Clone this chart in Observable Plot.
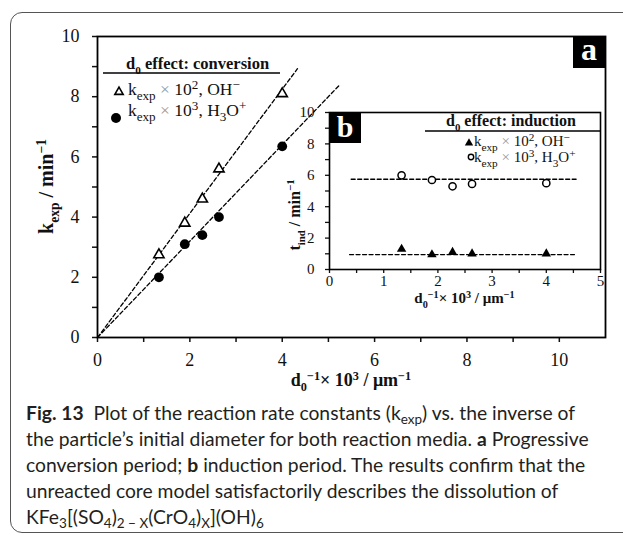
<!DOCTYPE html>
<html><head><meta charset="utf-8">
<script src="https://cdn.jsdelivr.net/npm/d3@7"></script>
<script src="https://cdn.jsdelivr.net/npm/@observablehq/plot@0.6"></script>
<style>
html,body{margin:0;padding:0;background:#fff;width:623px;height:538px;overflow:hidden;}
#wrap{position:relative;width:623px;height:538px;}
#card{position:absolute;left:10px;top:12px;width:680px;height:521px;border:1.5px solid #555;border-radius:12px;box-sizing:border-box;}
#main{position:absolute;left:0;top:0;}
#inset{position:absolute;left:280px;top:100px;}
#caption{position:absolute;left:26px;top:400px;font-family:Lato,'Noto Sans',sans-serif;font-size:19.5px;line-height:26px;color:#231f20;white-space:nowrap;}
#caption div{height:26px;}
#caption sub{font-size:0.7em;vertical-align:-0.3em;line-height:0;}
</style></head>
<body><div id="wrap"><div id="card"></div><div id="main"></div><div id="inset"></div>
<div id="caption">
<div id="l1"><b>Fig. 13</b>&nbsp; Plot of the reaction rate constants (k<sub>exp</sub>) vs. the inverse of</div>
<div id="l2">the particle’s initial diameter for both reaction media. <b>a</b> Progressive</div>
<div id="l3">conversion period; <b>b</b> induction period. The results confirm that the</div>
<div id="l4">unreacted core model satisfactorily describes the dissolution of</div>
<div id="l5">KFe<sub>3</sub>[(SO<sub>4</sub>)<sub>2 − X</sub>(CrO<sub>4</sub>)<sub>X</sub>](OH)<sub>6</sub></div>
</div></div>
<script>
// ---- data ----
const d0inv = [1.33, 1.89, 2.27, 2.63, 4.0];
const kOH   = [2.75, 3.8, 4.6, 5.6, 8.1];      // k_exp x 10^2, OH-
const kH3O  = [2.0, 3.1, 3.4, 4.0, 6.35];      // k_exp x 10^3, H3O+
const tOH   = [1.3, 0.95, 1.1, 1.0, 1.0];      // induction, OH-
const tH3O  = [6.0, 5.7, 5.3, 5.45, 5.5];      // induction, H3O+
const fitOHx = [0, 4.33],  fitOHy = [0, 8.93];
const fitH3Ox = [0, 5.23], fitH3Oy = [0, 8.37];
const meanOHx = [0.37, 4.52], meanOHy = [0.95, 0.95];
const meanH3Ox = [0.4, 4.55], meanH3Oy = [5.75, 5.75];
const mainXTicks = [0,1,2,3,4,5,6,7,8,9,10];
const mainYTicks = [0,1,2,3,4,5,6,7,8,9,10];
const insetXTicks = [0,0.5,1,1.5,2,2.5,3,3.5,4,4.5,5];
const insetYTicks = [0,1,2,3,4,5,6,7,8,9,10];

const pts = (xs, ys) => xs.map((x, i) => ({x, y: ys[i]}));
const serif = "'Liberation Serif', 'Times New Roman', serif";

// rich text helper (sub/superscripts as tspans)
function rich(parent, parts, attrs, fs, subScale = 0.68) {
  const t = parent.append("text").attr("text-anchor", "start").style("white-space", "pre");
  for (const [k, v] of Object.entries(attrs)) t.attr(k, v);
  t.attr("font-size", fs);
  let shift = 0;
  for (const p of parts) {
    const s = typeof p === "string" ? {t: p} : p;
    const target = s.sub ? 0.3 * fs : s.sup ? -0.36 * fs : 0;
    const ts = t.append("tspan").text(s.t).attr("dy", target - shift);
    shift = target;
    if (s.sub || s.sup) ts.attr("font-size", fs * subScale);
    if (s.fill) ts.attr("fill", s.fill);
    if (s.weight) ts.attr("font-weight", s.weight);
  }
  return t;
}
const entryOH = ["k", {t: "exp", sub: true}, {t: " × ", fill: "#999"}, "10", {t: "2", sup: true}, ", OH", {t: "−", sup: true}];
const entryH3O = ["k", {t: "exp", sub: true}, {t: " × ", fill: "#999"}, "10", {t: "3", sup: true}, ", H", {t: "3", sub: true}, "O", {t: "+", sup: true}];
const xLabel = ["d", {t: "0", sub: true}, {t: "−1", sup: true}, "× 10", {t: "3", sup: true}, " / μm", {t: "−1", sup: true}];

// ---- main chart ----
const main = Plot.plot({
  width: 623, height: 400,
  marginLeft: 97, marginRight: 18, marginTop: 36, marginBottom: 63,
  x: {domain: [0, 11]}, y: {domain: [0, 10]},
  style: {fontFamily: serif, fontSize: "18px", background: "transparent", color: "#000", overflow: "visible"},
  marks: [
    Plot.axisX({ticks: mainXTicks, tickFormat: d => d % 2 ? "" : d, tickSize: 5, tickPadding: 11, strokeWidth: 1.5, label: null, color: "#111"}),
    Plot.axisY({ticks: mainYTicks, tickFormat: d => d % 2 ? "" : d, tickSize: 5, tickPadding: 13, strokeWidth: 1.5, label: null, color: "#111"}),
    Plot.line(pts(fitOHx, fitOHy), {x: "x", y: "y", stroke: "#000", strokeWidth: 1.3, strokeDasharray: "4,2.5"}),
    Plot.line(pts(fitH3Ox, fitH3Oy), {x: "x", y: "y", stroke: "#000", strokeWidth: 1.3, strokeDasharray: "4,2.5"}),
    Plot.dot(pts(d0inv, kOH), {x: "x", y: "y", symbol: "triangle", r: 3.8, stroke: "#000", fill: "#fff", strokeWidth: 1.6}),
    Plot.dot(pts(d0inv, kH3O), {x: "x", y: "y", r: 4.9, fill: "#000", stroke: "none"}),
    Plot.frame({stroke: "#000", strokeWidth: 1.8}),
    (index, scales, values, dim) => {
      const g = d3.create("svg:g");
      // legend
      rich(g, ["d", {t: "0", sub: true}, " effect: conversion"], {x: 126, y: 69, "font-weight": "bold", fill: "#111"}, 16.5);
      g.append("line").attr("x1", 103).attr("x2", 280).attr("y1", 73).attr("y2", 73).attr("stroke", "#000").attr("stroke-width", 1.5);
      g.append("path").attr("d", d3.symbol(d3.symbolTriangle, 30)()).attr("transform", "translate(119,92)")
        .attr("fill", "#fff").attr("stroke", "#000").attr("stroke-width", 1.6);
      rich(g, entryOH, {x: 128, y: 95, fill: "#111"}, 17.5, 0.75);
      g.append("circle").attr("cx", 116).attr("cy", 118).attr("r", 5).attr("fill", "#000");
      rich(g, entryH3O, {x: 128, y: 116, fill: "#111"}, 17.5, 0.75);
      // "a" box
      const x1 = dim.width - dim.marginRight;
      g.append("rect").attr("x", x1 - 32).attr("y", dim.marginTop).attr("width", 32).attr("height", 32).attr("fill", "#000");
      g.append("text").attr("x", x1 - 16).attr("y", dim.marginTop + 24).attr("text-anchor", "middle")
        .attr("font-size", 32).attr("font-weight", "bold").attr("fill", "#fff").text("a");
      // axis labels
      rich(g, xLabel, {x: (dim.marginLeft + x1) / 2, y: 386, "text-anchor": "middle", "font-weight": "bold", fill: "#111"}, 18);
      rich(g, ["k", {t: "exp", sub: true}, " / min", {t: "−1", sup: true}],
        {transform: `translate(53,${(dim.marginTop + dim.height - dim.marginBottom) / 2}) rotate(-90)`, "text-anchor": "middle", "font-weight": "bold", fill: "#111"}, 20);
      return g.node();
    }
  ]
});
document.getElementById("main").append(main);

// ---- inset chart ----
const inset = Plot.plot({
  width: 330, height: 215,
  marginLeft: 49, marginRight: 10, marginTop: 12, marginBottom: 46,
  x: {domain: [0, 5]}, y: {domain: [0, 10]},
  style: {fontFamily: serif, fontSize: "15px", background: "transparent", color: "#000", overflow: "visible"},
  marks: [
    Plot.frame({fill: "#fff", stroke: "none"}),
    Plot.axisX({ticks: insetXTicks, tickFormat: d => Number.isInteger(d) ? d : "", tickSize: 4, tickPadding: 2, strokeWidth: 1.3, label: null, color: "#111"}),
    Plot.axisY({ticks: insetYTicks, tickFormat: d => d % 2 ? "" : d, tickSize: 4, tickPadding: 11, strokeWidth: 1.3, label: null, color: "#111"}),
    Plot.line(pts(meanH3Ox, meanH3Oy), {x: "x", y: "y", stroke: "#000", strokeWidth: 1.3, strokeDasharray: "4,2.5"}),
    Plot.line(pts(meanOHx, meanOHy), {x: "x", y: "y", stroke: "#000", strokeWidth: 1.3, strokeDasharray: "4,2.5"}),
    Plot.dot(pts(d0inv, tH3O), {x: "x", y: "y", r: 3.6, stroke: "#000", fill: "#fff", strokeWidth: 1.5}),
    Plot.dot(pts(d0inv, tOH), {x: "x", y: "y", symbol: "triangle", r: 3.5, fill: "#000", stroke: "none"}),
    Plot.frame({stroke: "#000", strokeWidth: 1.6}),
    (index, scales, values, dim) => {
      const g = d3.create("svg:g");
      const x1 = dim.width - dim.marginRight;
      rich(g, ["d", {t: "0", sub: true}, " effect: induction"], {x: 166, y: 26, "font-weight": "bold", fill: "#111"}, 16);
      g.append("line").attr("x1", 145).attr("x2", x1).attr("y1", 31).attr("y2", 31).attr("stroke", "#000").attr("stroke-width", 1.4);
      g.append("path").attr("d", d3.symbol(d3.symbolTriangle, 30)()).attr("transform", "translate(189,43)").attr("fill", "#000");
      rich(g, entryOH, {x: 194, y: 46, fill: "#111"}, 15, 0.75);
      g.append("circle").attr("cx", 191).attr("cy", 57).attr("r", 2.7).attr("fill", "#fff").attr("stroke", "#000").attr("stroke-width", 1.4);
      rich(g, entryH3O, {x: 194, y: 62, fill: "#111"}, 15, 0.75);
      // "b" box
      g.append("rect").attr("x", dim.marginLeft).attr("y", dim.marginTop).attr("width", 32).attr("height", 31).attr("fill", "#000");
      g.append("text").attr("x", dim.marginLeft + 16).attr("y", dim.marginTop + 25).attr("text-anchor", "middle")
        .attr("font-size", 30).attr("font-weight", "bold").attr("fill", "#fff").text("b");
      // axis labels
      rich(g, xLabel, {x: (dim.marginLeft + x1) / 2, y: 203, "text-anchor": "middle", "font-weight": "bold", fill: "#111"}, 15);
      rich(g, ["t", {t: "ind", sub: true}, " / min", {t: "−1", sup: true}],
        {transform: "translate(20,115) rotate(-90)", "text-anchor": "middle", "font-weight": "bold", fill: "#111"}, 16);
      return g.node();
    }
  ]
});
document.getElementById("inset").append(inset);

// fit caption width to reference line length
const l2 = document.getElementById("l2");
const r = document.createRange(); r.selectNodeContents(l2);
const w = r.getBoundingClientRect().width;
const cap = document.getElementById("caption");
cap.style.fontSize = (19.5 * 563 / w) + "px";
</script>
</body></html>
